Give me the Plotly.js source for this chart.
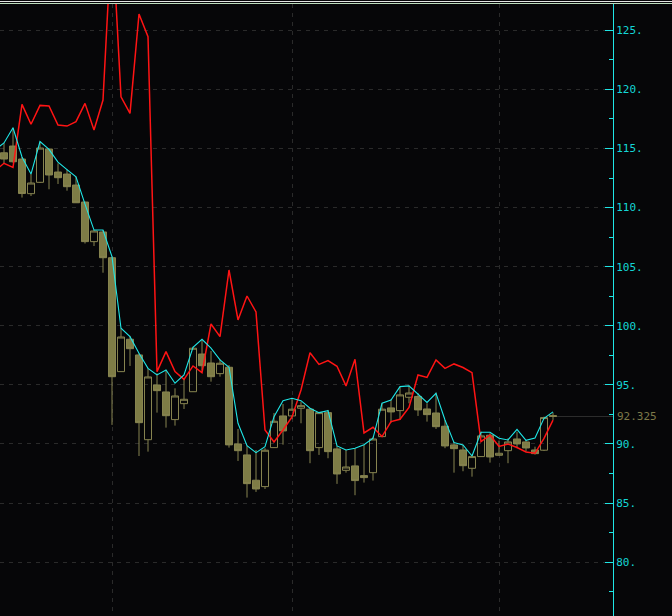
<!DOCTYPE html>
<html>
<head>
<meta charset="utf-8">
<script src="https://cdn.plot.ly/plotly-3.0.1.min.js"></script>
<style>
html,body{margin:0;padding:0;background:#060608;overflow:hidden;}
#chart{width:672px;height:616px;}
</style>
</head>
<body>
<div id="chart"></div>
<script>
// ---- candle data (bar index, open, high, low, close) ----
const candleIdx = [0,1,2,3,4,5,6,7,8,9,10,11,12,13,14,15,16,17,18,19,20,21,22,23,24,25,26,27,28,29,30,31,32,33,34,35,36,37,38,39,40,41,42,43,44,45,46,47,48,49,50,51,52,53,54,55,56,57,58,59,60,61];
const openVals  = [114.64,115.21,114.11,111.18,112.14,114.96,113.01,112.84,111.91,110.47,107.12,107.94,105.76,96.12,98.86,97.53,90.36,94.99,94.40,92.06,93.41,94.42,97.61,96.85,95.95,96.49,90.00,89.07,86.93,86.39,89.69,92.37,92.37,93.02,92.94,89.69,92.65,89.58,87.77,88.14,87.32,87.57,90.62,93.05,92.82,93.95,94.02,92.96,92.62,91.50,89.92,89.49,87.94,88.93,90.74,89.04,89.43,90.42,90.17,89.49,89.47,92.40];
const highVals  = [115.45,116.76,114.28,112.84,115.59,115.00,113.75,113.22,112.61,110.50,108.10,108.10,105.85,99.79,99.15,97.67,96.40,95.98,96.26,94.71,95.56,98.23,98.80,97.87,97.17,96.68,91.27,89.86,89.49,89.64,92.62,93.38,93.81,93.58,93.05,92.68,92.88,89.83,89.49,89.64,89.94,90.62,93.44,93.78,94.85,94.93,94.31,93.44,94.34,92.03,90.19,89.92,89.10,91.04,90.91,90.28,90.48,91.04,90.34,89.77,92.31,92.65];
const lowVals   = [113.77,113.80,110.85,110.98,112.08,111.55,112.00,111.43,110.39,106.96,106.75,104.49,91.61,96.09,96.60,88.98,89.35,92.65,91.38,91.55,92.96,94.40,96.20,95.27,95.69,89.69,88.56,85.46,85.94,86.19,89.67,89.94,92.09,91.75,88.37,89.07,88.79,86.62,87.57,85.66,86.73,86.90,90.60,91.80,92.03,93.44,92.37,91.89,91.27,89.64,87.57,87.69,87.23,88.90,88.42,89.02,88.37,89.64,89.35,89.10,89.40,92.03];
const closeVals = [114.11,113.88,111.19,112.08,115.04,112.76,112.53,111.77,110.41,107.12,108.02,105.76,95.69,99.05,98.06,91.80,95.67,94.51,92.39,94.06,93.78,98.10,96.62,95.69,96.83,89.92,89.43,86.64,86.19,89.47,91.92,91.10,92.94,93.24,89.43,92.65,89.35,87.46,88.05,86.90,87.15,90.42,92.94,92.71,94.15,94.31,92.88,92.48,91.46,89.83,89.60,88.16,88.93,90.68,88.90,89.21,90.17,90.00,89.66,89.18,92.23,92.325];

// ---- indicator lines (bar index incl. one bar before the first visible candle) ----
const lineIdx = [-1,0,1,2,3,4,5,6,7,8,9,10,11,12,13,14,15,16,17,18,19,20,21,22,23,24,25,26,27,28,29,30,31,32,33,34,35,36,37,38,39,40,41,42,43,44,45,46,47,48,49,50,51,52,53,54,55,56,57,58,59,60,61];
const cyanLine = [114.90,115.47,116.76,114.28,112.84,115.59,114.93,113.85,113.22,112.61,110.30,108.10,108.10,105.85,99.79,99.08,97.67,96.40,95.84,96.26,95.14,95.84,98.18,98.86,98.10,97.11,96.49,91.75,89.86,89.26,89.77,92.31,93.66,93.87,93.66,93.02,92.65,92.82,89.83,89.49,89.64,89.94,90.48,93.44,93.72,94.85,94.91,94.23,93.51,94.29,92.03,90.11,89.92,88.98,90.99,90.99,90.48,90.34,91.24,90.30,90.51,92.17,92.71];
const redLine  = [113.12,113.75,113.41,118.74,117.05,118.65,118.60,116.99,116.90,117.27,118.82,116.56,119.10,133.70,119.38,117.98,126.38,124.46,96.12,97.81,96.12,95.47,96.60,96.03,100.15,99.08,104.72,100.49,102.52,101.17,91.18,90.17,91.18,92.28,94.57,97.72,96.73,97.05,96.57,94.91,97.17,90.93,91.41,90.62,91.89,92.09,93.09,95.84,95.63,97.11,96.40,96.77,96.47,96.03,90.19,90.76,89.79,90.00,89.70,89.32,89.21,90.47,92.01];

// ---- axis ticks ----
const yTickVals = [80,85,90,95,100,105,110,115,120,125];
const yTickText = ['80.','85.','90.','95.','100.','105.','110.','115.','120.','125.'];
const yMinorVals = [77.5,82.5,87.5,92.5,97.5,102.5,107.5,112.5,117.5,122.5];
const xGridIdx = [12,32,55];

const CYAN = '#1fe6e6';
const OLIVE = '#878450';
const OLIVE_FILL = '#7e7c46';
const BG = '#060608';

const lastIdx = candleIdx[candleIdx.length-1];
const lastClose = closeVals[closeVals.length-1];

const traces = [
  {
    type:'candlestick', x:candleIdx, open:openVals, high:highVals, low:lowVals, close:closeVals,
    increasing:{line:{color:OLIVE,width:1}, fillcolor:'rgba(0,0,0,0)'},
    decreasing:{line:{color:OLIVE,width:1}, fillcolor:OLIVE_FILL},
    whiskerwidth:0, hoverinfo:'skip', showlegend:false
  },
  {
    type:'scatter', mode:'lines', x:lineIdx, y:redLine,
    line:{color:'#ff1414', width:1.5}, hoverinfo:'skip', showlegend:false
  },
  {
    type:'scatter', mode:'lines', x:lineIdx, y:cyanLine,
    line:{color:CYAN, width:1.1}, hoverinfo:'skip', showlegend:false
  }
];

const layout = {
  width:672, height:616,
  margin:{l:0, r:59, t:4, b:0, pad:0},
  paper_bgcolor:BG, plot_bgcolor:BG,
  showlegend:false,
  boxgap:0.22, boxgroupgap:0,
  xaxis:{
    range:[-0.444, 67.667], rangeslider:{visible:false},
    tickmode:'array', tickvals:xGridIdx, showticklabels:false, ticks:'',
    showgrid:true, gridcolor:'#2a2a2a', griddash:'4px,5px', gridwidth:1,
    zeroline:false, showline:false, fixedrange:true
  },
  yaxis:{
    side:'right', range:[75.44, 127.23],
    tickmode:'array', tickvals:yTickVals, ticktext:yTickText,
    ticks:'inside', ticklen:8, tickwidth:1, tickcolor:CYAN,
    showline:true, linecolor:CYAN, linewidth:1,
    showgrid:true, gridcolor:'#2a2a2a', griddash:'4px,5px', gridwidth:1,
    zeroline:false, fixedrange:true,
    tickfont:{family:'DejaVu Sans Mono', size:11, color:'#14d6d6'},
    minor:{tickmode:'array', tickvals:yMinorVals, ticks:'inside', ticklen:4, tickwidth:1, tickcolor:CYAN, showgrid:false}
  },
  shapes:[
    {type:'line', xref:'paper', yref:'paper', x0:0, x1:672/613, y0:1+2.5/612, y1:1+2.5/612, line:{color:'#e4e4e4', width:1}},
    {type:'line', xref:'paper', yref:'paper', x0:0, x1:672/613, y0:1+0.5/612, y1:1+0.5/612, line:{color:'#bcdcbc', width:1}},
    {type:'line', xref:'x', yref:'y', x0:lastIdx+0.4, x1:67.667, y0:lastClose, y1:lastClose, line:{color:'#2e2e2e', width:1}, layer:'below'}
  ],
  annotations:[
    {xref:'paper', yref:'y', x:1, y:lastClose, xanchor:'left', yanchor:'middle', xshift:2,
     text:lastClose.toFixed(3), showarrow:false,
     font:{family:'DejaVu Sans Mono', size:11, color:'#7d7848'}}
  ]
};

Plotly.newPlot('chart', traces, layout, {staticPlot:true, displayModeBar:false});
</script>
</body>
</html>
